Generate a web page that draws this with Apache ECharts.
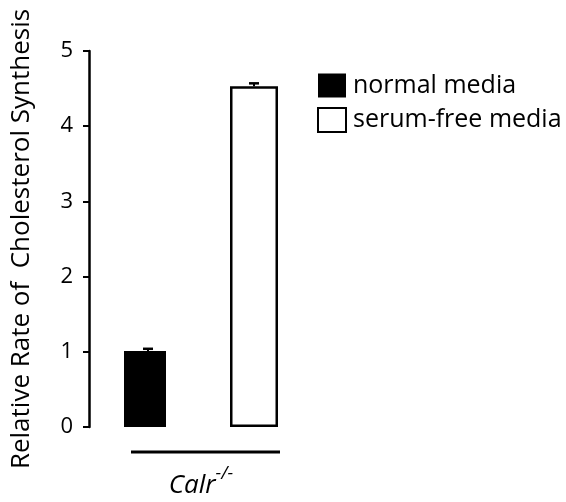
<!DOCTYPE html>
<html>
<head>
<meta charset="utf-8">
<script src="https://cdn.jsdelivr.net/npm/echarts@6/dist/echarts.min.js"></script>
<style>
  html, body { margin: 0; padding: 0; background: #fff; }
  #chart { width: 566px; height: 502px; }
</style>
</head>
<body>
<div id="chart"></div>
<script>
// data
var groups = ['normal media', 'serum-free media'];
var normalVals = [1.01, '-'];
var serumVals = ['-', 4.53];
var errTops = [1.04, 4.57];
var yTicks = [0, 1, 2, 3, 4, 5];

var font = 'Open Sans';

var chart = echarts.init(document.getElementById('chart'));

var option = {
    animation: false,
    backgroundColor: '#fff',
    textStyle: { fontFamily: font, color: '#000' },
    grid: { left: 95, width: 212, top: 51, bottom: 75, containLabel: false, outerBoundsMode: 'none' },
    legend: {
        orient: 'vertical',
        left: 317, top: 73,
        padding: 0,
        itemWidth: 28, itemHeight: 24,
        itemGap: 9,
        textStyle: { fontSize: 25, fontFamily: font, color: '#000', padding: [0, 0, 0, 2] },
        data: [
            { name: groups[0], icon: 'rect', itemStyle: { color: '#000' } },
            { name: groups[1], icon: 'rect', itemStyle: { color: '#fff', borderColor: '#000', borderWidth: 2 } }
        ]
    },
    xAxis: {
        type: 'category',
        data: groups,
        axisLine: { show: false },
        axisTick: { show: false },
        axisLabel: { show: false },
        name: '{i|Calr}{s|-/-}',
        nameLocation: 'middle',
        nameGap: 38,
        nameTextStyle: {
            rich: {
                i: { fontSize: 26, fontStyle: 'italic', fontFamily: font, color: '#000', verticalAlign: 'bottom' },
                s: { fontSize: 18, fontStyle: 'italic', fontFamily: font, color: '#000', verticalAlign: 'top', padding: [0, 0, 16, 0] }
            }
        }
    },
    yAxis: {
        type: 'value',
        min: 0, max: 5, interval: 1,
        offset: 6,
        splitLine: { show: false },
        axisLine: { show: true, lineStyle: { color: '#000', width: 2.5 } },
        axisTick: { show: true, inside: false, length: 6, lineStyle: { color: '#000', width: 2 } },
        axisLabel: {
            margin: 16, fontSize: 22, fontFamily: font, color: '#000',
            formatter: function (v) { return yTicks.indexOf(v) >= 0 ? String(v) : ''; }
        },
        name: 'Relative Rate of  Cholesterol Synthesis',
        nameLocation: 'middle',
        nameGap: 54,
        nameTextStyle: { fontSize: 26, fontFamily: font, color: '#000' }
    },
    series: [
        {
            name: groups[0], type: 'bar', data: normalVals,
            barWidth: 42, barGap: '-100%',
            itemStyle: { color: '#000' }
        },
        {
            name: groups[1], type: 'bar', data: serumVals,
            barWidth: 48, barGap: '-100%',
            itemStyle: { color: '#fff', borderColor: '#000', borderWidth: 2.5 }
        },
        {
            type: 'custom',
            data: errTops.map(function (e, i) { return [i, i === 0 ? normalVals[0] : serumVals[1], e]; }),
            renderItem: function (params, api) {
                var base = api.coord([api.value(0), api.value(1)]);
                var top = api.coord([api.value(0), api.value(2)]);
                return {
                    type: 'group',
                    children: [
                        { type: 'line', shape: { x1: base[0], y1: base[1], x2: top[0], y2: top[1] }, style: { stroke: '#000', lineWidth: 2 } },
                        { type: 'line', shape: { x1: top[0] - 5, y1: top[1], x2: top[0] + 5, y2: top[1] }, style: { stroke: '#000', lineWidth: 2.5 } }
                    ]
                };
            },
            z: 5
        }
    ],
    graphic: [
        { type: 'line', shape: { x1: 131, y1: 452, x2: 280, y2: 452 }, style: { stroke: '#000', lineWidth: 3 } }
    ]
};

chart.setOption(option);
</script>
</body>
</html>
